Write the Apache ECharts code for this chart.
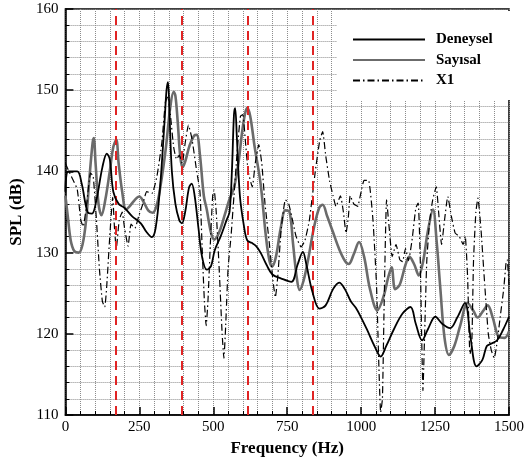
<!DOCTYPE html>
<html>
<head>
<meta charset="utf-8">
<script src="https://cdn.jsdelivr.net/npm/echarts@6/dist/echarts.min.js"></script>
<style>html,body{margin:0;padding:0;background:#fff}#c{width:527px;height:463px}</style>
</head>
<body>
<div id="c"></div>
<script>
// ---- data ----
const deneyselHz = [0,10,40,55,75,90,105,125,140,150,162,180,200,225,255,275,292,305,320,335,342,347,352,360,372,385,394,405,418,427,437,450,462,478,492,505,525,545,555,563,570,574,580,590,604,615,630,645,660,680,700,730,764,785,803,815,835,859,880,905,926,945,965,982,1000,1020,1045,1066,1085,1110,1140,1167,1185,1206,1225,1251,1275,1301,1325,1351,1370,1390,1410,1425,1441,1460,1480,1500];
const deneyselDb = [137.5,140,140,138.5,135,134.8,136.5,140.5,142.2,141.5,137.5,136,135.5,134.5,133.6,132.5,131.9,133,138,146,150,151,147,140,136,134,133.6,135,138,138.5,137,133,129.5,127.9,128.3,130.3,132,134,135,140,147,147.8,144,137,133.2,131.5,131.2,130.8,130,128.5,127.3,126.8,126.4,128.5,130.1,128.5,125.2,123.1,123.5,125.5,126.3,125.5,124,123.2,122,120.5,118.5,117.2,118.5,120.5,122.5,123.3,121.2,119.2,120.5,122.1,121.2,120.7,122,123.8,119.5,116,116.8,118.5,118.8,119.2,120.5,122.1];

const sayisalHz = [0,8,18,30,45,58,70,82,92,96,102,112,122,135,150,162,172,180,192,205,217,235,250,265,280,295,310,325,340,355,366,372,380,388,396,405,420,435,444,455,468,478,492,503,520,540,554,570,585,598,608,615,625,640,660,678,690,699,712,728,744,758,770,782,792,805,820,840,858,870,885,905,925,945,958,975,993,1010,1030,1055,1075,1092,1103,1115,1130,1150,1163,1180,1195,1210,1225,1243,1255,1268,1282,1297,1315,1335,1360,1380,1394,1412,1428,1445,1466,1485,1500];
const sayisalDb = [137,134.5,131.5,130.2,130,131,134,139.5,143.5,144.1,141,136,134.6,136.5,140,143,143.9,141,137.5,135.3,135.7,136.5,136.9,136.2,135.2,134.9,136,139,143,148,149.8,149.3,146,142,140.5,141.2,143.2,144.4,144.5,142,137,135.3,132.5,131.6,132.5,134.8,136.5,138,141,145,147.2,147.8,146.8,143,138.5,132,129,128.3,129.5,133,135.2,135,131,127,125.4,126.5,129,133,135.5,135.9,134.5,132.5,130.5,129,128.6,129.8,131.3,129.5,125.5,122.9,124.5,127,128.2,125.5,126,128.5,129.5,128.5,127.2,129,132.5,135.3,131.5,125.5,119.5,117.4,118.5,121,123.8,122.8,122,122.8,123.5,122,119.6,119.5,120.3];

const x1Hz = [0,12,25,40,52,60,72,85,94,105,115,125,133,140,150,160,166,172,182,192,200,212,222,235,248,262,275,293,310,326,338,346,355,366,376,385,395,405,416,428,444,455,463,470,476,482,490,498,503,510,520,530,536,542,550,560,570,582,592,600,608,618,632,642,654,664,675,690,702,710,718,730,744,755,765,780,797,810,825,845,860,870,880,893,905,915,930,940,949,957,963,975,988,1000,1010,1025,1040,1052,1060,1066,1072,1078,1086,1095,1105,1118,1131,1140,1150,1160,1172,1185,1193,1200,1205,1209,1214,1222,1232,1242,1254,1262,1272,1282,1293,1305,1318,1332,1345,1352,1360,1368,1374,1380,1388,1395,1405,1418,1430,1440,1450,1460,1470,1482,1490,1494,1500];
const x1Db = [141,140,139,137.8,134,133.2,136,139.8,139.4,134,128,124,123.3,126,132,136.8,133,130.5,134,135,133,130.8,133.5,133,134.5,136,137.5,137.3,139.5,143.5,148.5,149.2,147,143,141.5,142,141,143.5,145.7,144,140,137.5,130,124,121,124,131,137,137.7,135,128,120,117,121,128,132,137,143,146.8,147,144,140,138.1,141,143.3,141,136,131,126.5,124.5,127,133,136.5,136,134.5,132,130.7,131.5,134,140,143.8,144.9,142,138.9,137,135.7,137,135,132.4,134.5,137,136,135.7,137.5,138.9,138.9,134,126,116,110.3,112,124,136.5,133,129.5,131,129.1,128.9,130.5,129,131.5,135.5,136.1,129,119,113,119,129,134,136.5,138.1,135,131,134,136.9,134.5,132.4,132,131,132,127,117.5,118.5,129,135,136.7,133,126,120,118,117,119,122,125.5,128.7,129.1,126];

const redLinesHz = [170, 393, 615, 838];
const xTicks = {min: 0, max: 1500, step: 250};
const yTicks = {min: 110, max: 160, step: 10};

// ---- chart ----
const pair = (xs, ys) => xs.map((x, i) => [x, ys[i]]);
const serif = 'Liberation Serif, Times New Roman, serif';
const chart = echarts.init(document.getElementById('c'), null, {renderer: 'canvas'});

const axisCommon = {
  axisLine: {show: true, onZero: false, lineStyle: {color: '#000', width: 1.5}},
  axisTick: {show: true, inside: true, length: 8, lineStyle: {color: '#000', width: 1.5}},
  minorTick: {show: true, splitNumber: 5, length: 4, lineStyle: {color: '#000', width: 1}},
  splitLine: {show: true, lineStyle: {color: '#8c8c8c', type: 'dotted', width: 1}},
  minorSplitLine: {show: true, lineStyle: {color: '#8c8c8c', type: 'dotted', width: 1}},
  axisLabel: {color: '#000', fontSize: 15, fontFamily: serif, formatter: v => String(v)},
  nameLocation: 'middle',
  nameTextStyle: {color: '#000', fontSize: 17, fontWeight: 'bold', fontFamily: serif}
};

chart.setOption({
  animation: false,
  backgroundColor: '#fff',
  grid: {left: 64, top: 9, right: 16, bottom: 48, show: true, borderColor: '#000', borderWidth: 1.5, backgroundColor: 'transparent'},
  legend: {
    data: ['Deneysel', 'Sayısal', 'X1'],
    left: 337, top: 11,
    orient: 'vertical',
    padding: [21, 18, 12, 15],
    backgroundColor: '#fff',
    itemWidth: 72, itemHeight: 12, itemGap: 5.5,
    itemStyle: {opacity: 0},
    textStyle: {color: '#000', fontSize: 15, fontWeight: 'bold', fontFamily: serif, padding: [0, 0, 0, 6]}
  },
  xAxis: Object.assign({}, axisCommon, {
    type: 'value', min: xTicks.min, max: xTicks.max, interval: xTicks.step,
    name: 'Frequency (Hz)', nameGap: 19,
    axisLabel: Object.assign({}, axisCommon.axisLabel, {margin: 5})
  }),
  yAxis: Object.assign({}, axisCommon, {
    type: 'value', min: yTicks.min, max: yTicks.max, interval: yTicks.step,
    name: 'SPL (dB)', nameGap: 40,
    axisLabel: Object.assign({}, axisCommon.axisLabel, {margin: 7})
  }),
  series: [
    {
      name: 'Sayısal', type: 'line', data: pair(sayisalHz, sayisalDb),
      showSymbol: false, symbol: 'none', smooth: 0.35,
      lineStyle: {color: '#6b6b6b', width: 2.6}, itemStyle: {color: '#6b6b6b'}, z: 3
    },
    {
      name: 'X1', type: 'line', data: pair(x1Hz, x1Db),
      showSymbol: false, symbol: 'none', smooth: 0.15,
      lineStyle: {color: '#000', width: 1.2, type: [7, 3, 1.5, 3]}, itemStyle: {color: '#000'}, z: 4
    },
    {
      name: 'Deneysel', type: 'line', data: pair(deneyselHz, deneyselDb),
      showSymbol: false, symbol: 'none', smooth: 0.35,
      lineStyle: {color: '#000', width: 1.8}, itemStyle: {color: '#000'}, z: 5,
      markLine: {
        silent: true, symbol: ['none', 'none'], label: {show: false},
        lineStyle: {color: '#e02424', type: [9, 6], width: 2},
        data: redLinesHz.map(v => ({xAxis: v}))
      }
    }
  ]
});
</script>
</body>
</html>
